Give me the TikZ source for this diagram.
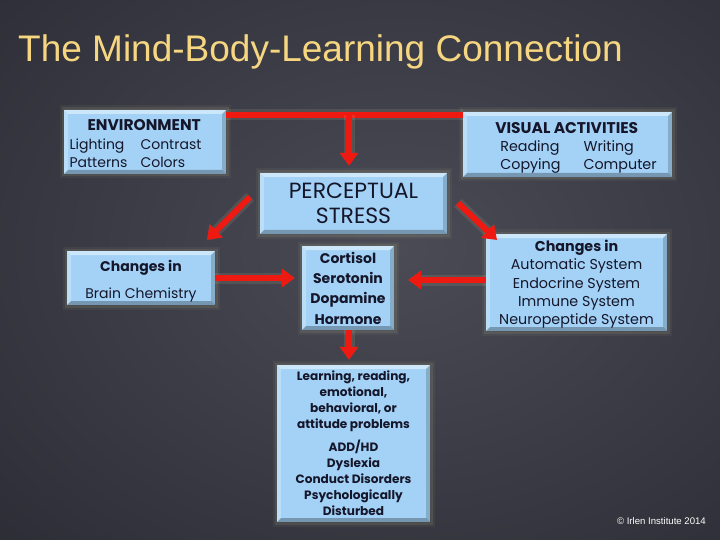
\documentclass[tikz,border=0pt]{standalone}
\usepackage{fontspec}
\setmainfont{Poppins}
\newfontfamily\titlefont{Liberation Sans}
\newfontfamily\smallfont{Liberation Sans}
\usetikzlibrary{arrows.meta}
\definecolor{bgin}{HTML}{4A4B55}
\definecolor{bgout}{HTML}{2A2B33}
\definecolor{boxblue}{HTML}{A3D2F6}
\definecolor{boxtext}{HTML}{15162A}
\definecolor{titlecol}{HTML}{F6D680}
\definecolor{arrowred}{HTML}{EE1A12}
\definecolor{glow}{HTML}{D9D2A6}
\tikzset{
  bbox/.style={rectangle, fill=boxblue, text=boxtext, inner sep=0pt, align=center,
    preaction={draw=glow, line width=9pt, opacity=0.06},
    preaction={draw=glow, line width=5pt, opacity=0.10},
    path picture={
      \coordinate (ppne) at (path picture bounding box.north east);
      \coordinate (ppsw) at (path picture bounding box.south west);
      \coordinate (ppnw) at (path picture bounding box.north west);
      \coordinate (ppse) at (path picture bounding box.south east);
      \fill[white,opacity=0.45] (ppnw) -- (ppne) -- ([shift={(-4pt,-4pt)}]ppne) -- ([shift={(4pt,-4pt)}]ppnw) -- cycle;
      \fill[white,opacity=0.25] (ppnw) -- (ppsw) -- ([shift={(4pt,4pt)}]ppsw) -- ([shift={(4pt,-4pt)}]ppnw) -- cycle;
      \fill[black,opacity=0.18] (ppne) -- (ppse) -- ([shift={(-4pt,4pt)}]ppse) -- ([shift={(-4pt,-4pt)}]ppne) -- cycle;
      \fill[black,opacity=0.28] (ppsw) -- (ppse) -- ([shift={(-4pt,4pt)}]ppse) -- ([shift={(4pt,4pt)}]ppsw) -- cycle;
    }},
  redline/.style={draw=arrowred, line width=6pt,
    preaction={draw=glow, line width=11pt, opacity=0.12}},
  redarrow/.style={redline, -{Triangle[width=18pt,length=13pt]}},
}
\newcommand{\hd}[1]{{\fontsize{15.5}{18}\selectfont\textbf{#1}}}
\newcommand{\dn}[2]{\raisebox{-#1}[\height][\depth]{#2}}
\begin{document}
\begin{tikzpicture}[x=1pt,y=-1pt]
\useasboundingbox (0,0) rectangle (720,540);
\shade[inner color=bgin, outer color=bgout] (-200,-200) rectangle (1000,700);
\node[anchor=base west, text=titlecol, font=\titlefont\fontsize{37}{42}\selectfont, inner sep=0pt] (title) at (18,62) {The Mind-Body-Learning Connection};
\node[anchor=base east, text=white, font=\smallfont\fontsize{9.6}{11}\selectfont, inner sep=0pt] (copy) at (706,524) {\textcopyright{} Irlen Institute 2014};

% boxes
\node[bbox, minimum width=162pt, minimum height=64pt, font=\fontsize{14}{18}\selectfont] (env) at (145,142)
  {\hspace*{-19pt}\dn{3pt}{\begin{tabular}{@{}l@{\hspace{13pt}}l@{}}\multicolumn{2}{@{}l@{}}{\hspace*{18pt}\hd{ENVIRONMENT}}\\[1pt] Lighting & Contrast\\ Patterns & Colors\end{tabular}}};
\node[bbox, minimum width=209pt, minimum height=65pt, font=\fontsize{14.3}{18}\selectfont] (vis) at (567.5,144.5)
  {\hspace*{22pt}\dn{3.5pt}{\begin{tabular}{@{}l@{\hspace{23pt}}l@{}}\multicolumn{2}{@{}l@{}}{\hspace*{-5pt}\hd{VISUAL ACTIVITIES}}\\[0.5pt] Reading & Writing\\ Copying & Computer\end{tabular}}};
\node[bbox, minimum width=187pt, minimum height=61pt, font=\fontsize{22}{25}\selectfont] (per) at (353.5,203.5)
  {PERCEPTUAL\\STRESS};
\node[bbox, minimum width=148pt, minimum height=52pt, font=\fontsize{14}{27}\selectfont] (brain) at (141,278)
  {\dn{2pt}{\begin{tabular}{@{}c@{}}\textbf{Changes in}\\Brain Chemistry\end{tabular}}};
\node[bbox, minimum width=92pt, minimum height=84pt, font=\bfseries\fontsize{14}{20.3}\selectfont] (cort) at (348,288)
  {Cortisol\\Serotonin\\Dopamine\\Hormone};
\node[bbox, minimum width=181pt, minimum height=97pt, font=\fontsize{14.3}{18.3}\selectfont] (chg) at (576.5,282.5)
  {\dn{2pt}{\begin{tabular}{@{}c@{}}\textbf{Changes in}\\Automatic System\\Endocrine System\\Immune System\\Neuropeptide System\end{tabular}}};
\node[bbox, minimum width=153pt, minimum height=157pt, font=\bfseries\fontsize{12.1}{16}\selectfont] (prob) at (353.5,443.5)
  {\dn{1pt}{\begin{tabular}{@{}c@{}}Learning, reading,\\emotional,\\behavioral, or\\attitude problems\\[7pt]ADD/HD\\Dyslexia\\Conduct Disorders\\Psychologically\\Disturbed\end{tabular}}};

% connectors
\coordinate (j) at (349,115);
\draw[redline] ([yshift=-5pt]env.north east) -- ([yshift=-3pt]vis.north west);
\draw[redarrow] (j) -- ([yshift=7pt]per.north -| j);
\coordinate (dl) at (250,197);
\coordinate (dlt) at (207,240);
\draw[redarrow] (dl) -- (dlt);
\coordinate (dr) at (458,203);
\coordinate (drt) at (497,240);
\draw[redarrow] (dr) -- (drt);
\draw[redarrow] (brain.east |- 0,278) -- ([xshift=-7pt]cort.west |- 0,278);
\draw[redarrow] (chg.west |- 0,280) -- ([xshift=14pt]cort.east |- 0,280);
\draw[redarrow] (cort.south -| j) -- ([yshift=5pt]prob.north -| j);
\end{tikzpicture}
\end{document}
